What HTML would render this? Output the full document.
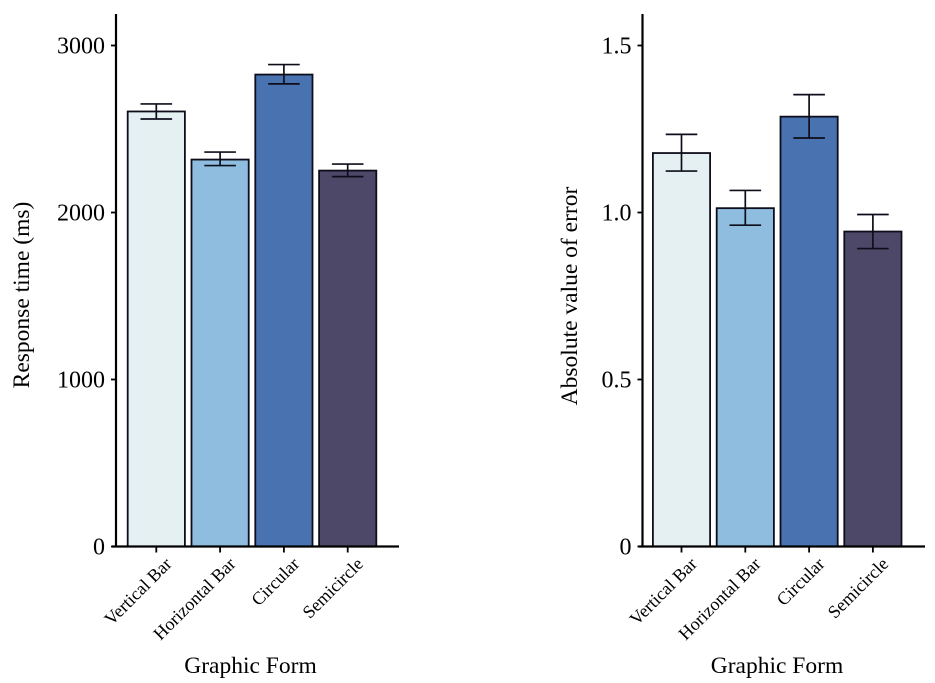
<!DOCTYPE html>
<html lang="en">
<head>
<meta charset="utf-8">
<title>Response time and absolute error by graphic form</title>
<style>
html,body{margin:0;padding:0;background:#fff;}
svg{display:block;font-family:"Liberation Serif",serif;fill:#000;}
</style>
</head>
<body>
<svg id="chart" xmlns="http://www.w3.org/2000/svg" width="935" height="683" viewBox="0 0 935 683">
<defs><filter id="soft" x="-2%" y="-2%" width="104%" height="104%"><feGaussianBlur stdDeviation="0.3"/></filter></defs>
<rect width="935" height="683" fill="#fff"/>
<g id="root" filter="url(#soft)"></g>
</svg>
<script>
const categories = ['Vertical Bar', 'Horizontal Bar', 'Circular', 'Semicircle'];
const barColors = ['#e4f0f2', '#8fbde0', '#4a72b0', '#4e4768'];

const responseValues = [2605, 2317, 2826, 2251];
const responseUpper = [2650, 2362, 2886, 2290];
const responseLower = [2560, 2281, 2770, 2215];
const responseTicks = [0, 1000, 2000, 3000];
const responseTickLabels = ['0', '1000', '2000', '3000'];

const errorValues = [1.178, 1.013, 1.287, 0.943];
const errorUpper = [1.234, 1.066, 1.353, 0.994];
const errorLower = [1.124, 0.962, 1.223, 0.892];
const errorTicks = [0, 0.5, 1.0, 1.5];
const errorTickLabels = ['0', '0.5', '1.0', '1.5'];

const NS = 'http://www.w3.org/2000/svg';
const root = document.getElementById('root');

function make(parent, tag, attrs, text) {
  const el = document.createElementNS(NS, tag);
  for (const k in attrs) el.setAttribute(k, attrs[k]);
  if (text !== undefined) el.textContent = text;
  parent.appendChild(el);
  return el;
}

function drawPanel(cfg) {
  const panel = make(root, 'g', {});
  
  

  const baseY = 546.5;
  const topY = 14;
  const y = v => baseY - (v / cfg.yUnit) * 167;
  const x = i => cfg.firstCenter + i * cfg.step;
  const halfBar = 28.6;
  const halfCap = 15.8;

  cfg.values.forEach((v, i) => {
    const bar = make(panel, 'rect', {
      x: x(i) - halfBar, y: y(v), width: halfBar * 2, height: baseY - y(v),
      fill: barColors[i], stroke: '#10101a', 'stroke-width': 1.8
    });
    
    
  });

  cfg.values.forEach((v, i) => {
    const err = make(panel, 'path', {
      d: 'M' + (x(i) - halfCap) + ' ' + y(cfg.upper[i]) + 'H' + (x(i) + halfCap) +
         'M' + x(i) + ' ' + y(cfg.upper[i]) + 'V' + y(cfg.lower[i]) +
         'M' + (x(i) - halfCap) + ' ' + y(cfg.lower[i]) + 'H' + (x(i) + halfCap),
      fill: 'none', stroke: '#10101a', 'stroke-width': 1.7
    });
    
    
  });

  const yAxis = make(panel, 'line', {
    x1: cfg.axisX, x2: cfg.axisX, y1: topY, y2: baseY + 1,
    stroke: '#000', 'stroke-width': 2.2
  });
  
  

  const xAxis = make(panel, 'line', {
    x1: cfg.axisX - 4, x2: cfg.axisEnd, y1: baseY, y2: baseY,
    stroke: '#000', 'stroke-width': 2.2
  });
  
  

  cfg.ticks.forEach((t, i) => {
    const tick = make(panel, 'line', {
      x1: cfg.axisX - 5, x2: cfg.axisX, y1: y(t), y2: y(t),
      stroke: '#000', 'stroke-width': 1.8
    });
    
    

    const label = make(panel, 'text', {
      x: cfg.axisX - 11, y: y(t) + 8, 'text-anchor': 'end', 'font-size': 24
    }, cfg.tickLabels[i]);
    
    
  });

  categories.forEach((c, i) => {
    const tick = make(panel, 'line', {
      x1: x(i), x2: x(i), y1: baseY, y2: baseY + 6,
      stroke: '#000', 'stroke-width': 1.8
    });
    
    

    const lx = x(i) + 16.5;
    const ly = 565;
    const label = make(panel, 'text', {
      x: lx, y: ly, 'text-anchor': 'end', 'font-size': 18,
      transform: 'rotate(-45 ' + lx + ' ' + ly + ')'
    }, c);
    
    
  });

  const xTitle = make(panel, 'text', {
    x: cfg.xTitleX, y: 673, 'text-anchor': 'middle', 'font-size': 23.5
  }, 'Graphic Form');
  
  

  const yTitle = make(panel, 'text', {
    x: cfg.yTitleX, y: cfg.yTitleY, 'text-anchor': 'middle', 'font-size': 23.5,
    transform: 'rotate(-90 ' + cfg.yTitleX + ' ' + cfg.yTitleY + ')'
  }, cfg.yTitle);
  
  
}

drawPanel({
  name: 'response-time', yUnit: 1000, values: responseValues,
  upper: responseUpper, lower: responseLower,
  ticks: responseTicks, tickLabels: responseTickLabels,
  firstCenter: 156.3, step: 63.8, axisX: 116, axisEnd: 399,
  xTitleX: 250.5, yTitle: 'Response time (ms)', yTitleX: 29, yTitleY: 295
});

drawPanel({
  name: 'absolute-error', yUnit: 0.5, values: errorValues,
  upper: errorUpper, lower: errorLower,
  ticks: errorTicks, tickLabels: errorTickLabels,
  firstCenter: 681.5, step: 63.8, axisX: 642.5, axisEnd: 925,
  xTitleX: 777, yTitle: 'Absolute value of error', yTitleX: 577, yTitleY: 296
});
</script>
</body>
</html>
